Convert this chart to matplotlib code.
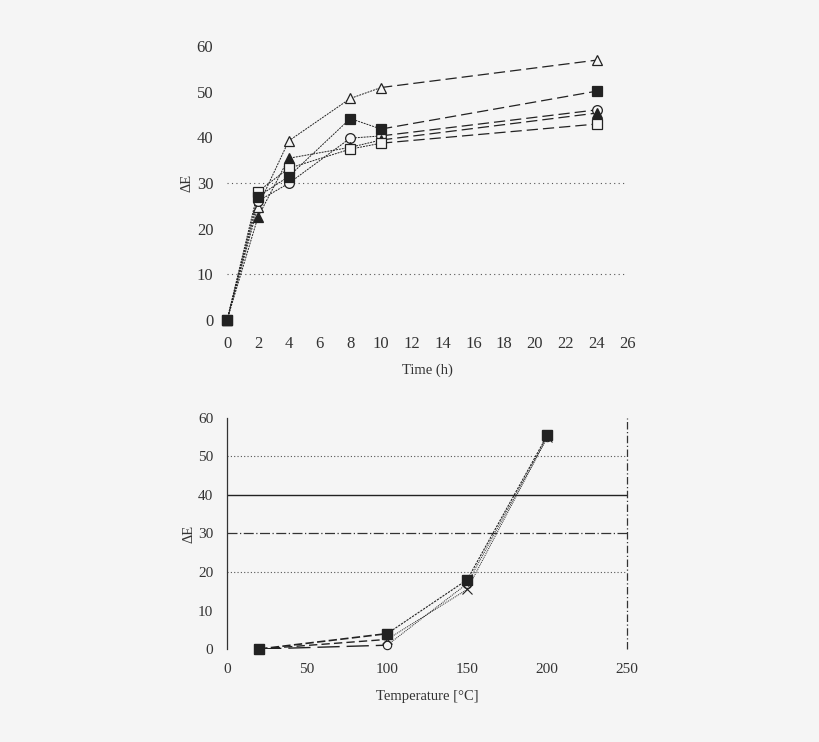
import matplotlib.pyplot as plt

plt.rcParams['font.family'] = ['Liberation Serif', 'DejaVu Serif']

# ---- data: top panel (Delta E vs time) ----
time_h = [0, 2, 4, 8, 10, 24]
open_tri = [0, 24.8, 39.2, 48.5, 50.9, 56.9]
filled_sq = [0, 27.0, 31.4, 44.1, 41.8, 50.1]
open_circ = [0, 26.0, 29.9, 39.8, 40.3, 46.0]
filled_tri = [0, 22.5, 35.4, 37.8, 39.4, 45.3]
open_sq = [0, 28.1, 33.2, 37.4, 38.7, 42.9]
time_ticks = list(range(0, 27, 2))
de_ticks_top = [0, 10, 20, 30, 40, 50, 60]

# ---- data: bottom panel (Delta E vs temperature) ----
temp_c = [20, 100, 150, 200]
temp_sq = [0, 4.0, 18.0, 55.5]
temp_cross = [0, 2.5, 15.5, 55.0]
temp_circ = [0, 1.0, 17.0, 55.0]
temp_ticks = [0, 50, 100, 150, 200, 250]
de_ticks_bot = [0, 10, 20, 30, 40, 50, 60]

bg = '#f5f5f5'
ink = '#222222'
txt = '#333333'

fig = plt.figure(figsize=(8.2, 7.42), dpi=100, facecolor=bg)

# ---------------- top panel ----------------
ax1 = fig.add_axes([0.277, 0.569, 0.488, 0.369], facecolor=bg)
for y in (10, 30):
    ax1.axhline(y, color='#555555', lw=0.8, ls=(0, (1, 3)), zorder=0)

series = [
    (open_tri, '^', 'none'),
    (open_circ, 'o', 'none'),
    (filled_tri, '^', ink),
    (open_sq, 's', 'none'),
    (filled_sq, 's', ink),
]
for vals, mk, fc in series:
    ax1.plot(time_h[:5], vals[:5], color=ink, lw=0.7, ls=(0, (2, 1)), zorder=2)
    ax1.plot(time_h[4:], vals[4:], color=ink, lw=0.9, ls=(0, (9, 4)), zorder=2)
    ax1.plot(time_h, vals, ls='none', marker=mk, ms=7, mfc=fc if fc != 'none' else bg,
             mec=ink, mew=0.9, zorder=3, clip_on=False)

ax1.set_xlim(0, 26)
ax1.set_ylim(0, 60)
ax1.set_xticks(time_ticks)
ax1.set_yticks(de_ticks_top)
for s in ax1.spines.values():
    s.set_visible(False)
ax1.tick_params(length=0, labelsize=12, colors=txt)
ax1.tick_params(axis='x', pad=12)
ax1.tick_params(axis='y', pad=10)
ax1.set_xlabel('Time (h)', fontsize=10.5, color=txt, labelpad=8)
ax1.set_ylabel('ΔE', fontsize=10.5, color=txt, labelpad=2)

# ---------------- bottom panel ----------------
ax2 = fig.add_axes([0.277, 0.1253, 0.488, 0.3114], facecolor=bg)
ax2.axhline(20, color='#555555', lw=0.8, ls=(0, (1, 2)), zorder=0)
ax2.axhline(50, color='#555555', lw=0.8, ls=(0, (1, 2)), zorder=0)
ax2.axhline(30, color='#333333', lw=0.9, ls=(0, (8, 2, 1, 2)), zorder=0)
ax2.axhline(40, color='#222222', lw=1.0, ls='-', zorder=0)
ax2.axvline(250, color='#333333', lw=0.9, ls=(0, (6, 2, 1, 2)), clip_on=False)

ax2.plot(temp_c[:2], temp_circ[:2], color=ink, lw=1.0, ls=(0, (16, 5)))
ax2.plot(temp_c[1:], temp_circ[1:], color=ink, lw=0.7, ls=(0, (1, 1)))
ax2.plot(temp_c, temp_circ, ls='none', marker='o', ms=6, mfc=bg, mec=ink, mew=0.8,
         clip_on=False)

ax2.plot(temp_c[:2], temp_cross[:2], color=ink, lw=1.0, ls=(0, (6, 3)))
ax2.plot(temp_c[1:], temp_cross[1:], color=ink, lw=0.7, ls=(0, (1, 1)))
ax2.plot(temp_c, temp_cross, ls='none', marker='x', ms=7, mec=ink, mew=0.8, clip_on=False)

ax2.plot(temp_c[:2], temp_sq[:2], color=ink, lw=1.2, ls=(0, (5, 2)))
ax2.plot(temp_c[1:], temp_sq[1:], color=ink, lw=0.8, ls=(0, (2, 1)))
ax2.plot(temp_c, temp_sq, ls='none', marker='s', ms=7, mfc=ink, mec=ink, clip_on=False)

ax2.set_xlim(0, 250)
ax2.set_ylim(0, 60)
ax2.set_xticks(temp_ticks)
ax2.set_yticks(de_ticks_bot)
for k in ('top', 'right', 'bottom'):
    ax2.spines[k].set_visible(False)
ax2.spines['left'].set_color('#333333')
ax2.spines['left'].set_linewidth(0.9)
ax2.tick_params(length=0, labelsize=11, colors=txt, pad=10)
ax2.set_xlabel('Temperature [°C]', fontsize=10.5, color=txt, labelpad=10)
ax2.set_ylabel('ΔE', fontsize=10.5, color=txt, labelpad=2)

fig.savefig('out.png', dpi=100, facecolor=bg)
